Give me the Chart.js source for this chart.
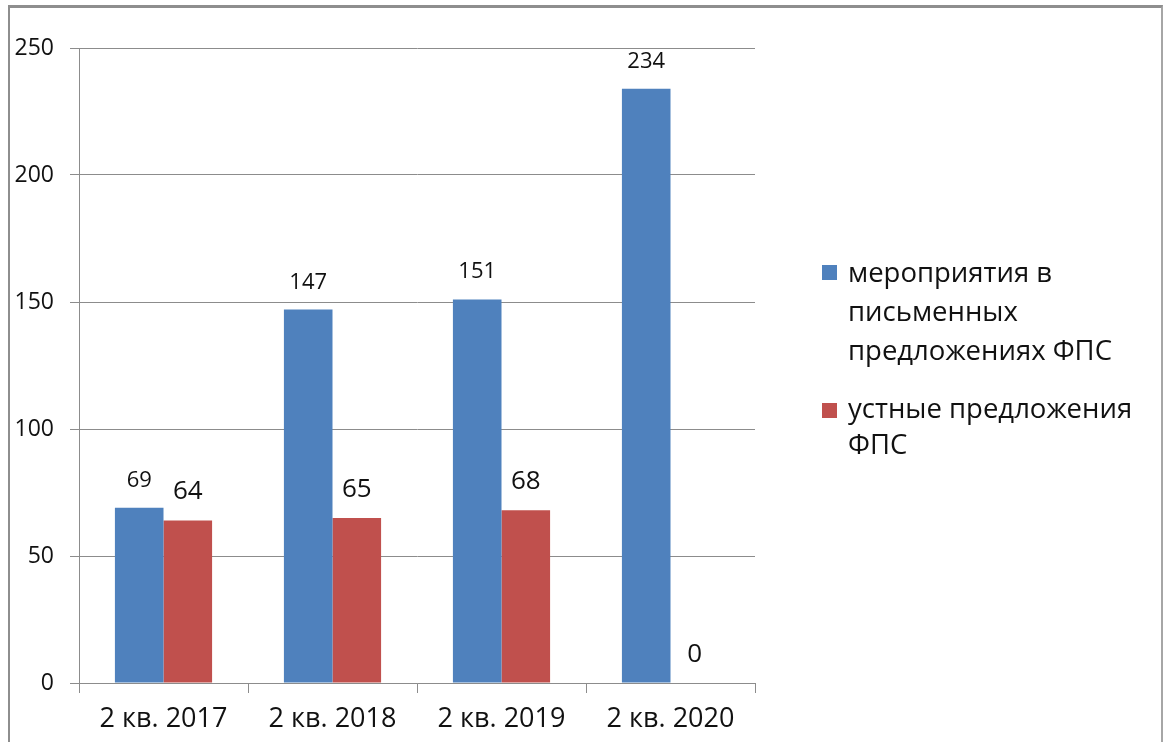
<!DOCTYPE html>
<html>
<head>
<meta charset="utf-8">
<script src="https://cdn.jsdelivr.net/npm/chart.js@4"></script>
<style>
  body { margin: 0; background: #fff; overflow: hidden; }
  #frame { position: absolute; left: 8px; top: 5px; width: 1151px; height: 760px;
           border-top: 3px solid #8e8e8e; border-left: 2px solid #8e8e8e; border-right: 2px solid #a6a6a6; }
  #wrap { position: absolute; left: 0; top: 0; width: 1163px; height: 742px; }
  #legend { position: absolute; left: 822px; top: 252px; font-family: "Open Sans", sans-serif;
            font-size: 27.5px; color: #111; line-height: 39px; white-space: nowrap; }
  .item { position: relative; padding-left: 26px; margin-bottom: 21px; }
  .item.b { line-height: 36px; }
  .sw { position: absolute; left: 0; top: 13px; width: 15px; height: 15px; }
</style>
</head>
<body>
<div id="frame"></div>
<div id="wrap"><canvas id="myChart" width="1163" height="742"></canvas></div>
<div id="legend"></div>
<script>
var categories = ['2 кв. 2017', '2 кв. 2018', '2 кв. 2019', '2 кв. 2020'];
var writtenValues = [69, 147, 151, 234];
var oralValues = [64, 65, 68, 0];
var seriesNames = [['мероприятия в', 'письменных', 'предложениях ФПС'], ['устные предложения', 'ФПС']];
var seriesColors = ['#4F81BD', '#C0504D'];
var labelSizes = [22, 26];

var fontName = '"Open Sans", sans-serif';

// legend as html, two entries with wrapped text
var legendHtml = '';
for (var i = 0; i < seriesNames.length; i++) {
  legendHtml += '<div class="item' + (i == 1 ? ' b' : '') + '"><span class="sw" style="background:' + seriesColors[i] + '"></span>' + seriesNames[i].join('<br>') + '</div>';
}
document.getElementById('legend').innerHTML = legendHtml;

// value labels above each bar
const valueLabels = {
  id: 'valueLabels',
  afterDatasetsDraw(chart) {
    const ctx = chart.ctx;
    chart.data.datasets.forEach(function(ds, di) {
      const meta = chart.getDatasetMeta(di);
      ctx.save();
      ctx.font = labelSizes[di] + 'px ' + fontName;
      ctx.fillStyle = '#111';
      ctx.textAlign = 'center';
      ctx.textBaseline = 'alphabetic';
      meta.data.forEach(function(bar, j) {
        ctx.fillText(String(ds.data[j]), bar.x, bar.y - 21);
      });
      ctx.restore();
    });
  }
};

const config = {
  type: 'bar',
  data: {
    labels: categories,
    datasets: [
      { label: seriesNames[0].join(' '), data: writtenValues, backgroundColor: seriesColors[0] },
      { label: seriesNames[1].join(' '), data: oralValues, backgroundColor: seriesColors[1] }
    ]
  },
  options: {
    responsive: false,
    animation: false,
    layout: { padding: { left: 0, top: 48, right: 408, bottom: 0 } },
    datasets: { bar: { categoryPercentage: 0.575, barPercentage: 1.0 } },
    plugins: { legend: { display: false }, tooltip: { enabled: false } },
    scales: {
      x: {
        afterFit: function(scale) { scale.height = 59; },
        grid: { drawOnChartArea: false, tickLength: 10, color: '#8c8c8c' },
        border: { color: '#8c8c8c' },
        ticks: { color: '#111', font: { family: fontName, size: 27 }, padding: 10, maxRotation: 0 }
      },
      y: {
        min: 0, max: 250,
        afterFit: function(scale) { scale.width = 79; },
        grid: { color: '#8c8c8c', tickLength: 9 },
        border: { color: '#8c8c8c' },
        ticks: { stepSize: 50, color: '#111', font: { family: fontName, size: 23 }, padding: 16 }
      }
    }
  },
  plugins: [valueLabels]
};

const myChart = new Chart(document.getElementById('myChart'), config);
</script>
</body>
</html>
